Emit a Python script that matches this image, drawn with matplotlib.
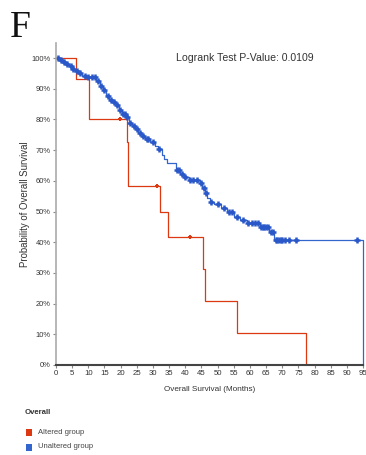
import numpy as np
import matplotlib
matplotlib.use("Agg")
import matplotlib.pyplot as plt
from matplotlib.patches import Rectangle

# Kaplan-Meier step data (time in months, survival in %)
altered_times = [0, 6.2, 10.3, 21.9, 22.4, 32.2, 34.8, 45.4, 46.1, 55.9, 77.3]
altered_surv = [100, 93.3, 80.0, 72.7, 58.3, 50.0, 41.7, 31.3, 20.8, 10.4, 0]
altered_censor = [19.8, 31.3, 41.5]

unaltered_times = [0, 1, 2, 3, 4, 5, 6, 7, 8, 9.5, 12.5, 13.5, 14.5, 15.5, 16.5,
                   17.5, 18.5, 19.5, 20.5, 21.5, 22.5, 23.5, 24.5, 25.5, 26.5,
                   27.5, 29, 30.5, 31.5, 32.8, 33.5, 34.3, 37.2, 38.5, 39.5, 41,
                   44.5, 45.3, 46, 46.8, 47.5, 49, 51, 53, 55, 57, 59, 63, 66,
                   67.3, 95]
unaltered_surv = [100, 99.3, 98.6, 98, 97.3, 96.5, 95.8, 95, 94.3, 93.8, 92.6,
                  91, 89.5, 87.8, 86.5, 85.8, 84.7, 83, 81.8, 80.7, 79, 77.8,
                  76.8, 75.7, 74.5, 73.5, 72.5, 71.3, 70.5, 68.5, 67, 65.7, 63.5,
                  62.3, 61.3, 60.3, 59.2, 57.5, 55.9, 54.5, 53.2, 52.5, 51, 49.8,
                  48.3, 47.2, 46.1, 45, 43.4, 40.7, 0]
unaltered_censor = [0.5, 1.5, 2.5, 3.5, 4.5, 5.2, 6.5, 7.5, 9, 10, 11, 12, 13,
                    14, 15, 16, 17, 18, 19, 19.8, 20.8, 21.2, 22, 23, 24, 25,
                    26, 27, 28, 28.5, 30, 32, 37.5, 38, 39, 40, 41.5, 42.5,
                    43.5, 45, 45.8, 46.5, 48, 50, 52, 53.5, 54.5, 56, 58, 59.5,
                    60.5, 61.5, 62.5, 63.5, 64, 64.5, 65, 65.5, 66.5, 67, 68,
                    68.5, 69, 69.5, 70, 71, 72, 74.3, 93.1]

x_ticks = list(range(0, 100, 5))
y_ticks = list(range(0, 101, 10))

red = "#dc3912"
blue = "#3366cc"
narrow = ["Liberation Sans Narrow", "Liberation Sans", "DejaVu Sans"]


def surv_at(times, surv, t):
    idx = np.searchsorted(np.asarray(times), t, side="right") - 1
    return np.asarray(surv)[idx]


fig = plt.figure(figsize=(3.66, 4.55), dpi=100)
ax = fig.add_axes([0.153, 0.198, 0.839, 0.708])

ax.step(altered_times, altered_surv, where="post", color=red, lw=0.9)
ax.plot(altered_censor, surv_at(altered_times, altered_surv, altered_censor),
        ls="none", marker="+", ms=3.5, mew=1.4, color=red)

ax.step(unaltered_times, unaltered_surv, where="post", color=blue, lw=0.9,
        clip_on=False)
ax.plot(unaltered_censor,
        surv_at(unaltered_times, unaltered_surv, unaltered_censor),
        ls="none", marker="+", ms=4.2, mew=1.8, color="#2a58c8")

ax.set_xlim(0, 95)
ax.set_ylim(0, 105)
ax.set_xticks(x_ticks)
ax.set_xticklabels([str(v) for v in x_ticks], family=narrow, fontsize=5.6,
                   color="#333333")
ax.set_yticks(y_ticks)
ax.set_yticklabels([f"{v}%" for v in y_ticks], family=narrow, fontsize=5.4,
                   color="#333333")
ax.tick_params(length=2.5, width=0.8, color="#888888", pad=1.5)

for side in ("top", "right"):
    ax.spines[side].set_visible(False)
ax.spines["left"].set_color("#aaaaaa")
ax.spines["left"].set_linewidth(1.2)
ax.spines["bottom"].set_color("#444444")
ax.spines["bottom"].set_linewidth(1.5)

ax.set_xlabel("Overall Survival (Months)", family=narrow, fontsize=5.9,
              color="#333333", labelpad=6)
ax.set_ylabel("Probability of Overall Survival", family=narrow, fontsize=6.9,
              color="#333333", labelpad=1)

ax.text(0.615, 0.952, "Logrank Test P-Value: 0.0109", transform=ax.transAxes,
        ha="center", va="center", family=["Liberation Sans", "DejaVu Sans"],
        fontsize=7.6, color="#333333")

fig.text(0.027, 0.94, "F", family=["Liberation Serif", "DejaVu Serif"],
         fontsize=27, ha="left", va="center", color="#111111")

# Legend block beneath the plot
fig.text(0.068, 1 - 412 / 455, "Overall", family=narrow, fontsize=5.6,
         fontweight="bold", ha="left", va="center", color="#333333")
for yy, col, lab in [(432, red, "Altered group"), (447, blue, "Unaltered group")]:
    fig.patches.append(Rectangle((26 / 366, 1 - (yy + 3.5) / 455), 6 / 366,
                                 7 / 455, transform=fig.transFigure,
                                 facecolor=col, edgecolor="none"))
    fig.text(38 / 366, 1 - yy / 455, lab, family=narrow, fontsize=5.5,
             ha="left", va="center", color="#444444")

fig.savefig("out.png", dpi=100)
